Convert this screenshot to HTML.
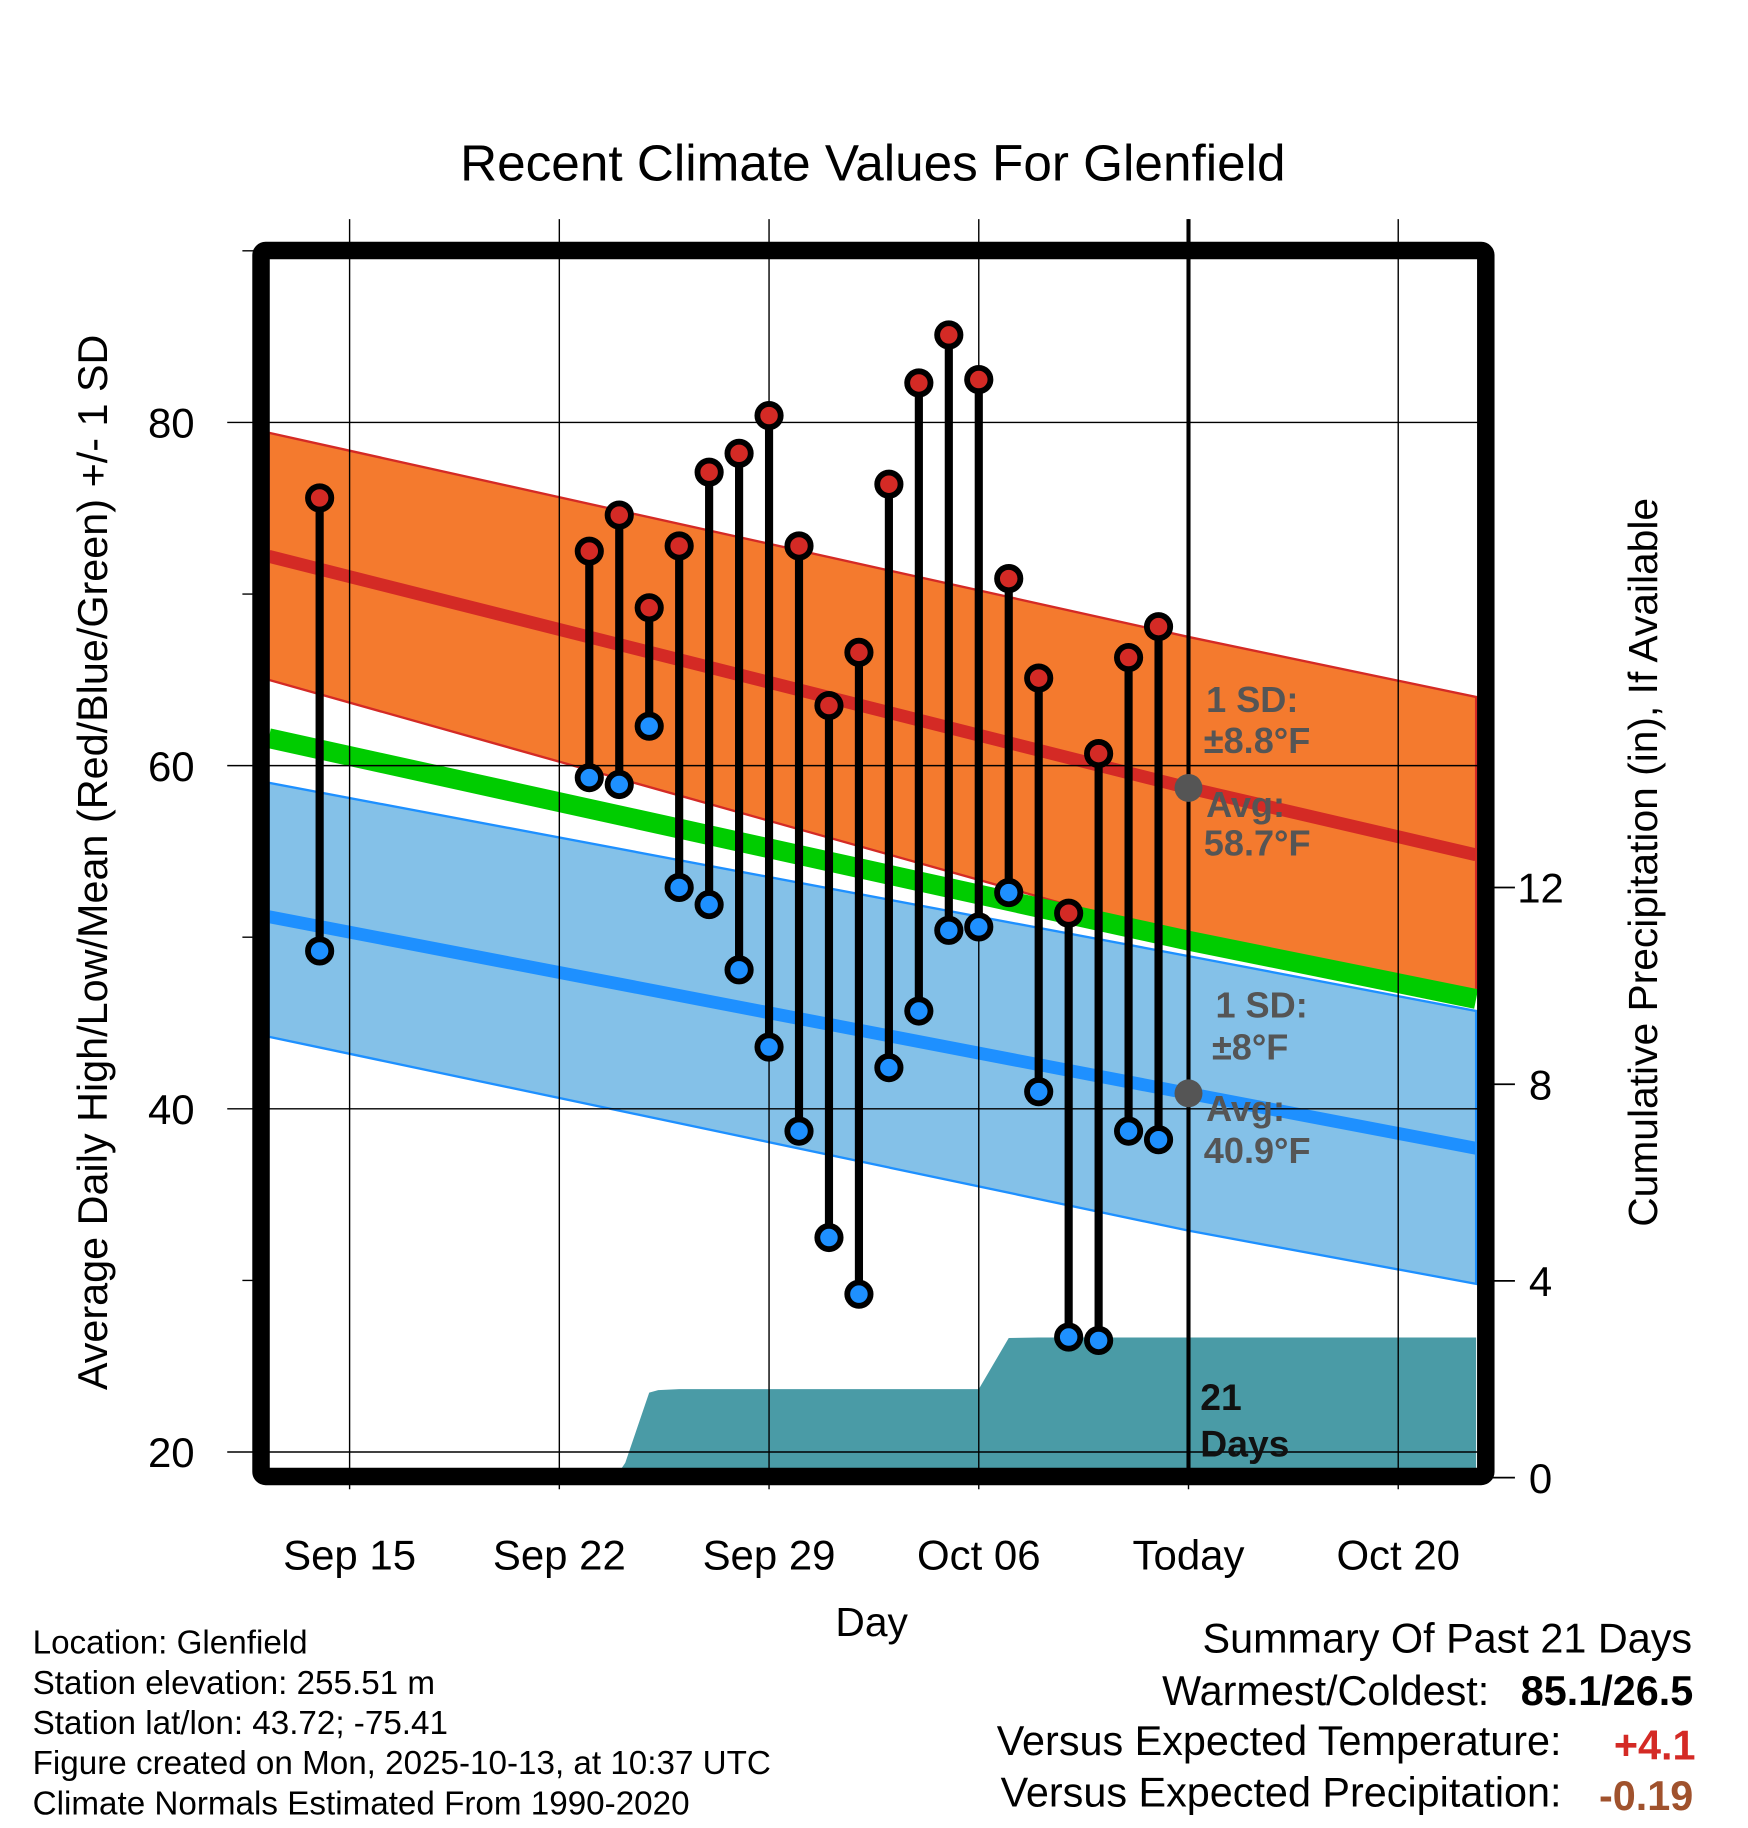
<!DOCTYPE html>
<html><head><meta charset="utf-8"><style>
html,body{margin:0;padding:0;background:#fff;}
svg{display:block;font-family:"Liberation Sans",Arial,sans-serif;}
</style></head><body>
<svg id="chart" width="1748" height="1828" viewBox="0 0 1500 1568.65" xmlns="http://www.w3.org/2000/svg">
<g id="g"></g>
</svg>
<script>
// ---- data ----
const tickLabels = ["Sep 15","Sep 22","Sep 29","Oct 06","Today","Oct 20"];
const tickDays = [0,7,14,21,28,35];
const obsDays = [-1,8,9,10,11,12,13,14,15,16,17,18,19,20,21,22,23,24,25,26,27];
const highs = [75.6,72.5,74.6,69.2,72.8,77.1,78.2,80.4,72.8,63.5,66.6,76.4,82.3,85.1,82.5,70.9,65.1,51.4,60.7,66.3,68.1];
const lows  = [49.2,59.3,58.9,62.3,52.9,51.9,48.1,43.6,38.7,32.5,29.2,42.4,45.7,50.4,50.6,52.6,41.0,26.7,26.5,38.7,38.2];
const normDays = [-2.7,28,37.6];
const normHigh = [72.2,58.7,54.8];
const normHighUp = [79.4,67.5,64.0];
const normHighLo = [65.0,49.9,46.9];
const normLow = [51.2,40.9,37.7];
const normLowUp = [59.0,48.9,45.7];
const normLowLo = [44.2,32.9,29.8];
const normMean = [61.6,49.8,46.4];
const precipDays = [-2.7,7.7,8,9,9.2,10,10.3,11,21,22,23,37.6];
const precip = [0,0,0.1,0.12,0.3,1.73,1.78,1.8,1.8,2.84,2.85,2.85];
const yTicks = [20,40,60,80];
const pTicks = [0,4,8,12];

// ---- axes ----
const X0=231,X1=1268;
const xs=d=>300+d*25.71;
const ys=v=>1246-(v-20)*14.725;
const yp=p=>1268-p*42.2;
const NS="http://www.w3.org/2000/svg";
const g=document.getElementById('g');
function el(tag,attrs,parent){const e=document.createElementNS(NS,tag);for(const k in attrs)e.setAttribute(k,attrs[k]);(parent||g).appendChild(e);return e;}
function txt(s,attrs){const t=el('text',attrs);t.textContent=s;return t;}
function bandPts(up,lo){let p=normDays.map((d,i)=>xs(d)+','+ys(up[i]));p=p.concat(normDays.slice().reverse().map((d,i)=>xs(d)+','+ys(lo[lo.length-1-i])));return p.join(' ');}
function linePts(a){return normDays.map((d,i)=>xs(d)+','+ys(a[i])).join(' ');}

const defs=el('defs',{});
const cp=el('clipPath',{id:'clip'},defs);el('rect',{x:X0,y:222,width:X1-X0,height:1038},cp);
const plot=el('g',{'clip-path':'url(#clip)'});

let e=el('polygon',{points:bandPts(normHighUp,normHighLo),fill:'#f47a2e',stroke:'#d42a25','stroke-width':2},plot);

e=el('polygon',{points:bandPts(normLowUp,normLowLo),fill:'#84c1e8',stroke:'#1e90ff','stroke-width':2},plot);

e=el('polyline',{points:linePts(normMean),fill:'none',stroke:'#00cc00','stroke-width':17},plot);

e=el('polyline',{points:linePts(normHigh),fill:'none',stroke:'#d42a25','stroke-width':11},plot);

e=el('polyline',{points:linePts(normLow),fill:'none',stroke:'#1e90ff','stroke-width':11},plot);


let pp=[xs(precipDays[0])+','+yp(0)];
precipDays.forEach((d,i)=>pp.push(xs(d)+','+yp(precip[i])));
pp.push(xs(precipDays[precipDays.length-1])+','+yp(0));
e=el('polygon',{points:pp.join(' '),fill:'#4a9ba6'},plot);


tickDays.forEach(d=>{el('line',{x1:xs(d),x2:xs(d),y1:188,y2:1278,stroke:'#000','stroke-width':1.2});});
yTicks.forEach(v=>{el('line',{x1:195,x2:X1,y1:ys(v),y2:ys(v),stroke:'#000','stroke-width':1.2});});
[30,50,70,90].forEach(v=>{el('line',{x1:208,x2:222,y1:ys(v),y2:ys(v),stroke:'#000','stroke-width':1.2});});
pTicks.forEach(p=>{el('line',{x1:1275,x2:1300,y1:yp(p),y2:yp(p),stroke:'#000','stroke-width':1.5});});

e=el('line',{x1:xs(28),x2:xs(28),y1:188,y2:1262,stroke:'#000','stroke-width':3.5});


obsDays.forEach((d,i)=>{
  const x=xs(d);
  const s=el('line',{x1:x,x2:x,y1:ys(highs[i]),y2:ys(lows[i]),stroke:'#000','stroke-width':7});
  
  const h=el('circle',{cx:x,cy:ys(highs[i]),r:10,fill:'#d42a25',stroke:'#000','stroke-width':5});
  
  const l=el('circle',{cx:x,cy:ys(lows[i]),r:10,fill:'#1e90ff',stroke:'#000','stroke-width':5});
  
});

e=el('rect',{x:224,y:215,width:1051,height:1052,fill:'none',stroke:'#000','stroke-width':15,rx:4});


const ann={fill:'#555','font-weight':'bold','font-size':31};
function A(s,x,y,name){const t=txt(s,Object.assign({x:x,y:y},ann));return t;}
e=el('circle',{cx:xs(28),cy:ys(normHigh[1]),r:12,fill:'#555'});
e=el('circle',{cx:xs(28),cy:ys(normLow[1]),r:12,fill:'#555'});
A('1 SD:',1035,611,'high-sd-label');
A('±8.8°F',1033,646,'high-sd-value');
A('Avg:',1035,701,'high-avg-label');
A('58.7°F',1033,734,'high-avg-value');
A('1 SD:',1043,873,'low-sd-label');
A('±8°F',1040,909,'low-sd-value');
A('Avg:',1035,962,'low-avg-label');
A('40.9°F',1033,998,'low-avg-value');
e=txt('21',{x:1030,y:1210,'font-size':32,'font-weight':'bold',fill:'#111'});
e=txt('Days',{x:1030,y:1250,'font-size':32,'font-weight':'bold',fill:'#111'});

tickLabels.forEach((s,i)=>{const t=txt(s,{x:xs(tickDays[i]),y:1347,'text-anchor':'middle','font-size':36});
});
yTicks.forEach(v=>{const t=txt(String(v),{x:167,y:ys(v)+13,'text-anchor':'end','font-size':36});
});
pTicks.forEach(p=>{const t=txt(String(p),{x:1322,y:yp(p)+13,'text-anchor':'middle','font-size':36});
});

e=txt('Recent Climate Values For Glenfield',{x:749,y:155,'text-anchor':'middle','font-size':44});
e=txt('Day',{x:748,y:1404,'text-anchor':'middle','font-size':35});
e=txt('Average Daily High/Low/Mean (Red/Blue/Green) +/- 1 SD',{x:0,y:0,'text-anchor':'middle','font-size':35.5,transform:'translate(92,740) rotate(-90)'});
e=txt('Cumulative Precipitation (in), If Available',{x:0,y:0,'text-anchor':'middle','font-size':35,transform:'translate(1422,740) rotate(-90)'});

const info=['Location: Glenfield','Station elevation: 255.51 m','Station lat/lon: 43.72; -75.41','Figure created on Mon, 2025-10-13, at 10:37 UTC','Climate Normals Estimated From 1990-2020'];
info.forEach((s,i)=>{const t=txt(s,{x:28,y:1419+i*34.5,'font-size':28.5});});

e=txt('Summary Of Past 21 Days',{x:1452,y:1418,'text-anchor':'end','font-size':35.5});
e=txt('Warmest/Coldest:',{x:1278,y:1463,'text-anchor':'end','font-size':35.5});
e=txt('85.1/26.5',{x:1453,y:1463,'text-anchor':'end','font-size':35.5,'font-weight':'bold'});
e=txt('Versus Expected Temperature:',{x:1340,y:1506,'text-anchor':'end','font-size':35.5});
e=txt('+4.1',{x:1455,y:1510,'text-anchor':'end','font-size':35.5,'font-weight':'bold',fill:'#d42a25'});
e=txt('Versus Expected Precipitation:',{x:1340,y:1550,'text-anchor':'end','font-size':35.5});
e=txt('-0.19',{x:1453,y:1553,'text-anchor':'end','font-size':35.5,'font-weight':'bold',fill:'#a0522d'});
</script>
</body></html>
